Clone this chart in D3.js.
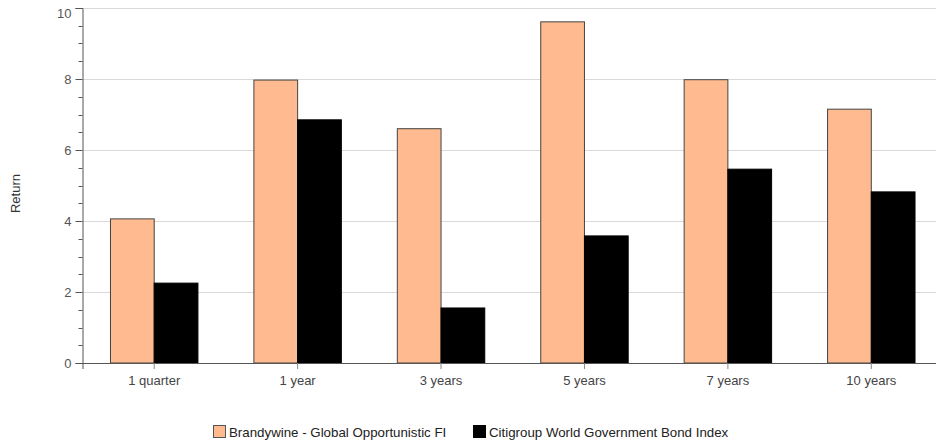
<!DOCTYPE html>
<html>
<head>
<meta charset="utf-8">
<script src="https://cdn.jsdelivr.net/npm/d3@7"></script>
<style>
  body { margin: 0; background: #fff; }
  svg { display: block; font-family: "Liberation Sans", Arial, sans-serif; }
</style>
</head>
<body>
<svg id="chart" width="936" height="443"></svg>
<script>
const categories = ["1 quarter", "1 year", "3 years", "5 years", "7 years", "10 years"];
const seriesNames = ["Brandywine - Global Opportunistic FI", "Citigroup World Government Bond Index"];
const brandywine = [4.06, 7.97, 6.6, 9.61, 7.98, 7.15];
const citigroup = [2.25, 6.85, 1.55, 3.58, 5.46, 4.82];
const yTicks = [0, 2, 4, 6, 8, 10];
const colors = ["#FFBB8F", "#000000"];

const svg = d3.select("#chart");
const plotLeft = 82.5, plotRight = 943, plotTop = 8, plotBottom = 363;
const fontFamily = "Liberation Sans, Arial, sans-serif";

const x = d3.scaleBand().domain(categories).range([plotLeft, plotRight]);
const x1 = d3.scaleBand().domain([0, 1]).range([0, x.bandwidth()]).paddingOuter(0.64).paddingInner(0);
const y = d3.scaleLinear().domain([0, 10]).range([plotBottom, plotTop]);

// gridlines
svg.append("g").selectAll("line").data(yTicks.filter(d => d > 0)).join("line")
  .attr("x1", plotLeft).attr("x2", 936)
  .attr("y1", d => Math.round(y(d)) + 0.5).attr("y2", d => Math.round(y(d)) + 0.5)
  .attr("stroke", "#d9d9d9").attr("stroke-width", 1);

// bars
const rows = categories.map((c, i) => ({ c, vals: [brandywine[i], citigroup[i]] }));
const groups = svg.append("g").selectAll("g").data(rows).join("g")
  .attr("transform", d => `translate(${x(d.c)},0)`);
groups.selectAll("rect").data(d => d.vals.map((v, k) => ({ v, k }))).join("rect")
  .attr("x", d => x1(d.k))
  .attr("width", x1.bandwidth())
  .attr("y", d => y(d.v))
  .attr("height", d => y(0) - y(d.v))
  .attr("fill", d => colors[d.k])
  .attr("stroke", d => d.k === 0 ? "#444" : "#000")
  .attr("stroke-width", 1);

// y axis
const yAxis = d3.axisLeft(y).tickValues(yTicks).tickSize(7).tickPadding(4).tickFormat(d3.format("d"));
const ya = svg.append("g").attr("transform", `translate(${plotLeft},0)`).call(yAxis);
ya.select(".domain").attr("stroke", "#555");
ya.selectAll(".tick line").attr("stroke", "#555");
ya.selectAll(".tick text").attr("fill", "#555").attr("font-size", 13).attr("font-family", fontFamily)
  .attr("dy", d => d === 10 ? "0.75em" : "0.32em");
// minor ticks
const minor = d3.range(0, 10.01, 0.5).filter(v => v % 2 !== 0);
svg.append("g").selectAll("line").data(minor).join("line")
  .attr("x1", plotLeft - 4).attr("x2", plotLeft)
  .attr("y1", d => Math.round(y(d)) + 0.5).attr("y2", d => Math.round(y(d)) + 0.5)
  .attr("stroke", "#555");

// x axis
const xAxis = d3.axisBottom(x).tickSizeOuter(0).tickSize(6).tickPadding(7);
const xa = svg.append("g").attr("transform", `translate(0,${plotBottom})`).call(xAxis);
xa.select(".domain").attr("stroke", "#555");
xa.selectAll(".tick line").attr("stroke", "#888");
xa.selectAll(".tick text").attr("fill", "#444").attr("font-size", 13).attr("font-family", fontFamily);

// y axis title
svg.append("text")
  .attr("transform", `translate(20,${(plotTop + plotBottom) / 2 + 8}) rotate(-90)`)
  .attr("text-anchor", "middle")
  .attr("font-size", 13).attr("fill", "#333")
  .text("Return");

// legend
const legendX = [213, 473];
const lg = svg.append("g").selectAll("g").data(seriesNames).join("g")
  .attr("transform", (d, i) => `translate(${legendX[i]},425)`);
lg.append("rect").attr("x", 0.5).attr("y", 0.5).attr("width", 12).attr("height", 12)
  .attr("fill", (d, i) => colors[i]).attr("stroke", (d, i) => i === 0 ? "#555" : "#000");
lg.append("text").attr("x", 16).attr("y", 11.5).attr("font-size", 13.3).attr("fill", "#222").text(d => d);
</script>
</body>
</html>
